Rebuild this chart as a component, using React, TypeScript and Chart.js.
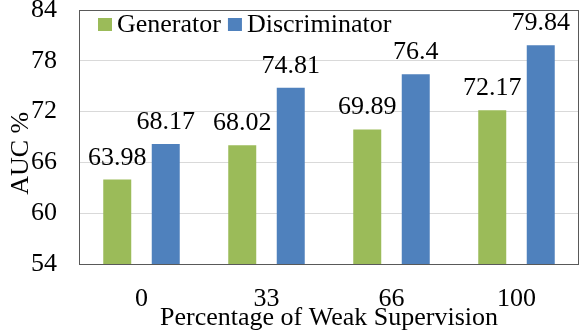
import React, { useEffect, useRef } from "react";
import { Chart, registerables } from "chart.js";

Chart.register(...registerables);

const categories = ["0", "33", "66", "100"];
const generatorValues = [63.98, 68.02, 69.89, 72.17];
const discriminatorValues = [68.17, 74.81, 76.4, 79.84];
const generatorLabels = ["63.98", "68.02", "69.89", "72.17"];
const discriminatorLabels = ["68.17", "74.81", "76.4", "79.84"];
const yTicks = [54, 60, 66, 72, 78, 84];

const FONT = "'Liberation Serif', 'Times New Roman', serif";
const SIZE = 26;
const GREEN = "#9BBB59";
const BLUE = "#4F81BD";

const boxAndLabels = {
  id: "boxAndLabels",
  afterDatasetsDraw(chart: any) {
    const { ctx, chartArea } = chart;
    ctx.save();
    // data labels
    ctx.font = `${SIZE}px ${FONT}`;
    ctx.fillStyle = "#000";
    ctx.textAlign = "center";
    ctx.textBaseline = "alphabetic";
    const labelSets = [generatorLabels, discriminatorLabels];
    chart.data.datasets.forEach((ds: any, di: number) => {
      const meta = chart.getDatasetMeta(di);
      meta.data.forEach((bar: any, i: number) => {
        ctx.fillText(labelSets[di][i], bar.x, bar.y - 15);
      });
    });
    // legend
    const baseline = chartArea.top + 22;
    let lx = chartArea.left + 19;
    ctx.textAlign = "left";
    chart.data.datasets.forEach((ds: any) => {
      ctx.fillStyle = ds.backgroundColor;
      ctx.fillRect(lx, baseline - 14, 14, 13);
      ctx.fillStyle = "#000";
      ctx.fillText(ds.label, lx + 19, baseline);
      lx += 19 + ctx.measureText(ds.label).width + 7;
    });
    // box
    ctx.strokeStyle = "#595959";
    ctx.lineWidth = 1;
    ctx.strokeRect(
      Math.round(chartArea.left) + 0.5,
      Math.round(chartArea.top) + 0.5,
      Math.round(chartArea.right - chartArea.left) - 1,
      Math.round(chartArea.bottom - chartArea.top)
    );
    ctx.restore();
  },
};

export default function App() {
  const ref = useRef<HTMLCanvasElement>(null);
  useEffect(() => {
    document.body.style.margin = "0";
    const chart = new Chart(ref.current!, {
      type: "bar",
      data: {
        labels: categories,
        datasets: [
          {
            label: "Generator",
            data: generatorValues,
            backgroundColor: GREEN,
            categoryPercentage: 0.776,
            barPercentage: 0.577,
          },
          {
            label: "Discriminator",
            data: discriminatorValues,
            backgroundColor: BLUE,
            categoryPercentage: 0.776,
            barPercentage: 0.577,
          },
        ],
      },
      options: {
        animation: false,
        responsive: false,
        maintainAspectRatio: false,
        layout: { padding: { top: 10, right: 2, left: 0, bottom: 0 } },
        plugins: {
          legend: { display: false },
          tooltip: { enabled: false },
        },
        scales: {
          x: {
            grid: { display: false, drawTicks: false },
            border: { display: false },
            ticks: {
              color: "#000",
              font: { family: FONT, size: SIZE },
              padding: 20,
            },
            title: {
              display: true,
              text: "Percentage of Weak Supervision",
              color: "#000",
              font: { family: FONT, size: SIZE },
              padding: { top: 0, bottom: 1 },
            },
            afterFit: (scale: any) => {
              scale.height = 71;
              scale.paddingLeft = 0;
              scale.paddingRight = 0;
            },
          },
          y: {
            min: 54,
            max: 84,
            afterBuildTicks: (axis: any) => {
              axis.ticks = yTicks.map((v) => ({ value: v }));
            },
            grid: { color: "#D9D9D9", drawTicks: false },
            border: { display: false },
            ticks: {
              color: "#000",
              font: { family: FONT, size: SIZE },
              padding: 22,
            },
            title: {
              display: true,
              text: "AUC %\u00A0\u00A0\u00A0\u00A0\u00A0",
              color: "#000",
              font: { family: FONT, size: SIZE },
              padding: { top: 6, bottom: 0 },
            },
            afterFit: (scale: any) => {
              scale.width = 79;
              scale.paddingTop = 0;
              scale.paddingBottom = 0;
            },
          },
        },
      },
      plugins: [boxAndLabels],
    });
    return () => chart.destroy();
  }, []);
  return (
    <div style={{ width: 581, height: 335 }}>
      <canvas ref={ref} width={581} height={335} />
    </div>
  );
}
